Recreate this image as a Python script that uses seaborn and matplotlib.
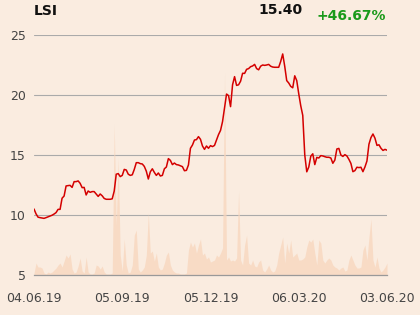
import numpy as np
import pandas as pd
import matplotlib
matplotlib.use("Agg")
import matplotlib.pyplot as plt
import seaborn as sns

# ---- data ----
ticker = "LSI"
last_price = "15.40"
change = "+46.67%"

price = [
    10.50, 10.10, 9.82, 9.78, 9.75, 9.72, 9.78, 9.85, 9.92, 9.98,
    10.08, 10.20, 10.47, 10.47, 11.40, 11.58, 12.42, 12.45, 12.47, 12.30,
    12.78, 12.78, 12.84, 12.64, 12.28, 12.30, 11.67, 12.00, 11.89, 11.95,
    11.95, 11.75, 11.55, 11.75, 11.60, 11.38, 11.31, 11.31, 11.31, 11.35,
    12.00, 13.40, 13.45, 13.20, 13.30, 13.80, 13.75, 13.40, 13.30, 13.35,
    13.80, 14.36, 14.36, 14.28, 14.25, 14.05, 13.65, 13.00, 13.60, 13.85,
    13.55, 13.30, 13.50, 13.25, 13.30, 13.85, 14.00, 14.70, 14.55, 14.20,
    14.33, 14.20, 14.17, 14.10, 14.03, 13.69, 13.72, 14.17, 15.56, 15.83,
    16.25, 16.28, 16.53, 16.31, 15.75, 15.47, 15.75, 15.56, 15.78, 15.70,
    15.80, 16.25, 16.70, 17.05, 17.78, 18.90, 20.08, 19.95, 19.03, 20.85,
    21.53, 20.80, 20.85, 21.15, 21.81, 21.80, 22.14, 22.20, 22.36, 22.42,
    22.55, 22.20, 22.10, 22.40, 22.50, 22.47, 22.50, 22.55, 22.40, 22.33,
    22.31, 22.31, 22.31, 22.80, 23.42, 22.40, 21.20, 21.00, 20.72, 20.60,
    21.60, 21.20, 20.10, 19.10, 18.30, 15.00, 13.60, 14.00, 14.90, 15.10,
    14.20, 14.80, 14.75, 14.95, 14.92, 14.86, 14.81, 14.81, 14.75, 14.31,
    14.58, 15.50, 15.55, 15.00, 14.88, 15.03, 14.92, 14.64, 14.30, 13.61,
    13.70, 13.98, 13.95, 13.98, 13.61, 14.00, 14.50, 15.90, 16.45, 16.75,
    16.40, 15.80, 15.85, 15.56, 15.38, 15.47, 15.40,
]

volume = [
    2, 12, 8, 8, 7, 2, 1, 3, 2, 3,
    5, 7, 10, 12, 8, 14, 20, 17, 21, 6,
    2, 3, 9, 17, 4, 2, 18, 3, 1, 1,
    2, 10, 9, 6, 9, 3, 1, 1, 1, 2,
    151, 50, 117, 20, 4, 36, 10, 2, 3, 10,
    40, 45, 6, 3, 5, 8, 20, 62, 22, 24,
    14, 22, 8, 5, 6, 12, 20, 23, 10, 5,
    3, 2, 2, 1, 1, 1, 2, 25, 33, 28,
    32, 22, 30, 36, 20, 22, 16, 18, 13, 14,
    15, 20, 18, 22, 27, 203, 15, 18, 14, 15,
    14, 17, 84, 15, 10, 30, 40, 12, 10, 15,
    9, 8, 13, 15, 5, 3, 6, 10, 5, 3,
    4, 10, 22, 30, 38, 12, 32, 22, 35, 18,
    20, 22, 15, 15, 16, 18, 28, 35, 33, 36,
    22, 10, 35, 32, 15, 12, 15, 17, 15, 10,
    8, 7, 5, 7, 8, 4, 5, 15, 20, 15,
    10, 7, 7, 8, 25, 30, 15, 38, 56, 15,
    8, 18, 7, 3, 5, 8, 12,
]

tick_labels = ["04.06.19", "05.09.19", "05.12.19", "06.03.20", "03.06.20"]
tick_sessions = [0, 44, 88, 132, 176]
y_ticks = [5, 10, 15, 20, 25]

n = min(len(price), len(volume))
df = pd.DataFrame({"session": np.arange(n),
                   "price": price[:n],
                   "volume": volume[:n]})

# ---- style ----
bg = "#faece0"
sns.set_style("white", {"axes.facecolor": bg, "figure.facecolor": bg})
plt.rcParams["font.family"] = ["DejaVu Sans"]

fig = plt.figure(figsize=(4.2, 3.15), dpi=100)
ax = fig.add_axes([34 / 420, 1 - 275 / 315, (387 - 34) / 420, (275 - 35) / 315])
ax.set_facecolor(bg)

# volume as filled area from the 5 baseline
vol_base = 5
vol_scale = 1 / 12.0
ax.fill_between(df["session"], vol_base, vol_base + df["volume"] * vol_scale,
                color="#f8d6bd", alpha=0.75, linewidth=0, zorder=1)

sns.lineplot(data=df, x="session", y="price", ax=ax, color="#d40000",
             linewidth=1.1, zorder=3)

ax.set_xlim(0, n - 1)
ax.set_ylim(5, 25)
ax.set_yticks(y_ticks)
ax.set_yticklabels([str(t) for t in y_ticks])
ax.set_xticks(tick_sessions)
ax.set_xticklabels(tick_labels)
ax.set_xlabel("")
ax.set_ylabel("")

ax.grid(axis="y", color="#aaaaaa", linewidth=0.8, zorder=2)
ax.grid(axis="x", visible=False)
for s in ["top", "right", "left"]:
    ax.spines[s].set_visible(False)
ax.spines["bottom"].set_color("#999999")
ax.spines["bottom"].set_linewidth(0.9)

ax.tick_params(axis="y", length=0, pad=6, labelsize=9, labelcolor="#444444")
ax.tick_params(axis="x", length=8, width=0.9, color="#777777", pad=4,
               labelsize=9, labelcolor="#444444")

fig.text(34 / 420, 1 - 11 / 315, ticker, ha="left", va="center",
         fontsize=10, fontweight="bold", color="#111111")
fig.text(303 / 420, 1 - 10 / 315, last_price, ha="right", va="center",
         fontsize=10, fontweight="bold", color="#111111")
fig.text(316 / 420, 1 - 16 / 315, change, ha="left", va="center",
         fontsize=10, fontweight="bold", color="#1a9a1a")

fig.savefig("out.png", dpi=100, facecolor=bg)
